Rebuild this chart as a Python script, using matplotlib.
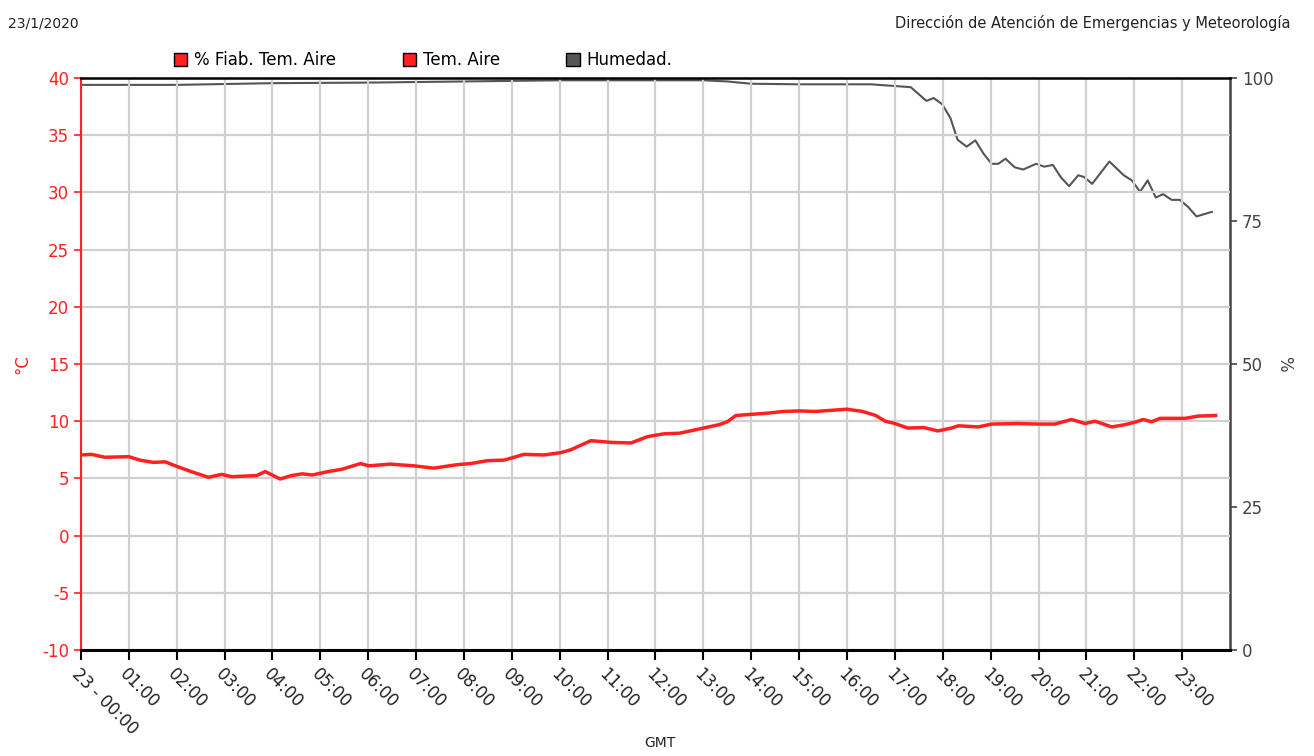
"""
Temperatura del aire y humedad, 23/1/2020
"""
import matplotlib.pyplot as plt
from matplotlib.patches import Patch

plt.rcParams["font.family"] = ["DejaVu Sans"]
plt.rcParams["font.size"] = 12
plt.rcParams["axes.unicode_minus"] = False

# temperatura del aire (hora GMT, grados C)
temp_hours = [0.0, 0.22, 0.5, 1.0, 1.23, 1.51, 1.76, 1.97, 2.3, 2.66, 2.94, 3.15, 3.67, 3.85,
              4.16, 4.4, 4.62, 4.83, 5.17, 5.45, 5.84, 6.01, 6.46, 6.95, 7.37, 7.86, 8.14,
              8.49, 8.84, 9.25, 9.67, 10.02, 10.23, 10.65, 11.07, 11.49, 11.83, 12.18, 12.5,
              13.0, 13.33, 13.5, 13.68, 14.0, 14.33, 14.67, 15.0, 15.33, 15.67, 16.0, 16.33,
              16.6, 16.8, 17.0, 17.27, 17.6, 17.9, 18.18, 18.33, 18.74, 19.02, 19.57, 19.99,
              20.34, 20.69, 20.97, 21.18, 21.53, 21.81, 22.0, 22.19, 22.36, 22.54, 23.06,
              23.34, 23.7]
temp_values = [7.05, 7.1, 6.85, 6.9, 6.6, 6.4, 6.45, 6.1, 5.6, 5.1, 5.35, 5.15, 5.25, 5.6,
               4.95, 5.25, 5.4, 5.3, 5.6, 5.8, 6.3, 6.1, 6.25, 6.1, 5.9, 6.2, 6.3,
               6.55, 6.6, 7.1, 7.05, 7.25, 7.5, 8.3, 8.15, 8.1, 8.65, 8.9, 8.95,
               9.4, 9.7, 9.95, 10.5, 10.6, 10.7, 10.85, 10.9, 10.85, 10.95, 11.05, 10.85,
               10.5, 10.0, 9.8, 9.4, 9.45, 9.15, 9.4, 9.6, 9.5, 9.75, 9.8, 9.75,
               9.75, 10.15, 9.8, 10.0, 9.5, 9.7, 9.9, 10.15, 9.95, 10.25, 10.25,
               10.45, 10.5]

# humedad relativa (hora GMT, %)
hum_hours = [0.0, 2.0, 4.0, 6.0, 8.0, 10.0, 13.0, 13.5, 14.0, 15.0, 16.5, 17.0, 17.33,
             17.66, 17.81, 17.99, 18.16, 18.31, 18.5, 18.68, 18.85, 19.02, 19.16, 19.31,
             19.5, 19.68, 19.95, 20.12, 20.3, 20.47, 20.64, 20.83, 20.95, 21.12, 21.48,
             21.78, 21.95, 22.12, 22.28, 22.45, 22.6, 22.78, 22.95, 23.12, 23.3, 23.62]
hum_values = [98.8, 98.8, 99.1, 99.2, 99.4, 99.6, 99.6, 99.4, 99.0, 98.9, 98.9, 98.6, 98.4,
              96.0, 96.5, 95.4, 93.0, 89.2, 88.0, 89.1, 86.8, 85.0, 85.0, 85.9,
              84.4, 84.0, 85.0, 84.5, 84.8, 82.6, 81.1, 83.0, 82.7, 81.5, 85.4,
              83.0, 82.1, 80.1, 82.1, 79.1, 79.7, 78.7, 78.7, 77.5, 75.8, 76.6]

hour_labels = ["23 - 00:00"] + ["%02d:00" % h for h in range(1, 24)]

red = "#ff2020"
gray = "#555555"

fig = plt.figure(figsize=(13.14, 7.56), dpi=100)
ax = fig.add_axes([0.0616, 0.1402, 0.8745, 0.7566])
ax2 = ax.twinx()

ax.set_zorder(ax2.get_zorder() + 1)
ax.patch.set_visible(False)

ax.plot(temp_hours, temp_values, color=red, lw=2.5)
ax2.plot(hum_hours, hum_values, color=gray, lw=1.5)

ax.set_xlim(0, 24)
ax.set_ylim(-10, 40)
ax.set_yticks(range(-10, 41, 5))
ax2.set_ylim(0, 100)
ax2.set_yticks([0, 25, 50, 75, 100])

ax.set_xticks(range(0, 24))
ax.set_xticklabels(hour_labels, rotation=-45, ha="left", va="top",
                   rotation_mode="anchor", color="#222222", fontsize=12)
ax.tick_params(axis="x", length=7, width=1.5, color="black", pad=4)
ax.tick_params(axis="y", colors=red, labelsize=12, length=5, width=1.2)
ax2.tick_params(axis="y", colors="#444444", labelsize=12, length=5, width=1.2)

ax2.grid(False)
ax.grid(True, color="#d0d0d0", lw=1.6)
ax.set_axisbelow(True)

ax.spines["left"].set_color(red)
ax.spines["left"].set_linewidth(1.5)
ax.spines["bottom"].set_linewidth(2.2)
ax.spines["top"].set_linewidth(1.8)
ax.spines["right"].set_visible(False)
ax2.spines["right"].set_color("#444444")
ax2.spines["right"].set_linewidth(1.8)
ax2.spines["left"].set_visible(False)
ax2.spines["top"].set_visible(False)
ax2.spines["bottom"].set_visible(False)

ax.set_ylabel("°C", color=red, fontsize=12, labelpad=8)
ax2.set_ylabel("%", color="#444444", fontsize=12, rotation=270, labelpad=14)
fig.text(0.502, 0.012, "GMT", fontsize=10, ha="center", color="#222222")

fig.text(0.006, 0.963, "23/1/2020", fontsize=10, color="#222222")
fig.text(0.982, 0.963, "Dirección de Atención de Emergencias y Meteorología",
         fontsize=10.5, ha="right", color="#222222")

handles = [Patch(facecolor=red, edgecolor="black", label="% Fiab. Tem. Aire"),
           Patch(facecolor=red, edgecolor="black", label="Tem. Aire"),
           Patch(facecolor=gray, edgecolor="black", label="Humedad.")]
fig.legend(handles=handles, ncol=3, loc="center", bbox_to_anchor=(0.322, 0.92),
           frameon=False, handlelength=0.8, handleheight=0.8, handletextpad=0.4,
           columnspacing=4.0, fontsize=12)

fig.savefig("out.png", dpi=100)
